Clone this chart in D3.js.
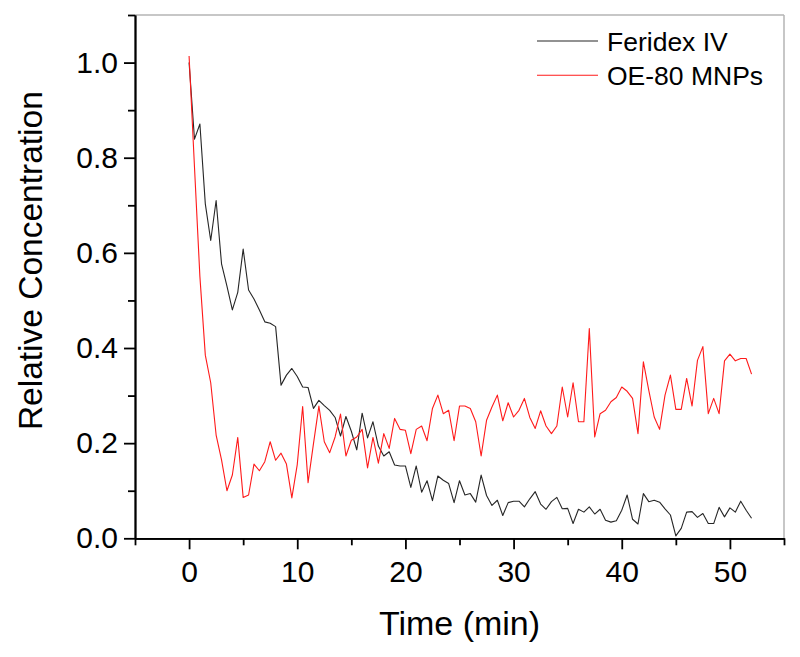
<!DOCTYPE html>
<html>
<head>
<meta charset="utf-8">
<script src="https://cdn.jsdelivr.net/npm/d3@7"></script>
<style>
  body { margin: 0; background: #fff; }
  svg text { font-family: "Liberation Sans", Arial, sans-serif; fill: #000; }
</style>
</head>
<body>
<div class="chart"></div>
<script>
// sample times (min)
const time = [
  0, 0.5, 1, 1.5, 2, 2.5, 3, 3.5, 4, 4.5, 5, 5.5, 6, 6.5, 7, 7.5, 8, 8.5, 9, 9.5,
  10, 10.5, 11, 11.5, 12, 12.5, 13, 13.5, 14, 14.5, 15, 15.5, 16, 16.5, 17, 17.5, 18, 18.5, 19, 19.5,
  20, 20.5, 21, 21.5, 22, 22.5, 23, 23.5, 24, 24.5, 25, 25.5, 26, 26.5, 27, 27.5, 28, 28.5, 29, 29.5,
  30, 30.5, 31, 31.5, 32, 32.5, 33, 33.5, 34, 34.5, 35, 35.5, 36, 36.5, 37, 37.5, 38, 38.5, 39, 39.5,
  40, 40.5, 41, 41.5, 42, 42.5, 43, 43.5, 44, 44.5, 45, 45.5, 46, 46.5, 47, 47.5, 48, 48.5, 49, 49.5,
  50, 50.5, 51, 51.5, 52
];

const feridex = [
  1.000, 0.839, 0.871, 0.703, 0.626, 0.710, 0.577, 0.530, 0.480, 0.517, 0.608, 0.522, 0.503, 0.480, 0.455, 0.452, 0.445, 0.322, 0.343, 0.357,
  0.340, 0.318, 0.317, 0.273, 0.290, 0.279, 0.269, 0.254, 0.215, 0.256, 0.225, 0.186, 0.263, 0.211, 0.245, 0.194, 0.173, 0.182, 0.154, 0.152,
  0.152, 0.107, 0.152, 0.097, 0.121, 0.079, 0.131, 0.122, 0.115, 0.075, 0.121, 0.091, 0.094, 0.076, 0.133, 0.090, 0.069, 0.080, 0.048, 0.075,
  0.078, 0.078, 0.066, 0.083, 0.098, 0.072, 0.061, 0.077, 0.086, 0.062, 0.063, 0.031, 0.061, 0.055, 0.066, 0.051, 0.061, 0.038, 0.034, 0.037,
  0.059, 0.091, 0.040, 0.030, 0.094, 0.077, 0.080, 0.076, 0.062, 0.049, 0.005, 0.021, 0.055, 0.056, 0.044, 0.052, 0.031, 0.031, 0.065, 0.045,
  0.064, 0.055, 0.078, 0.059, 0.042
];

const oe80 = [
  1.014, 0.780, 0.550, 0.385, 0.327, 0.217, 0.165, 0.100, 0.133, 0.212, 0.086, 0.091, 0.156, 0.142, 0.161, 0.203, 0.164, 0.179, 0.156, 0.085,
  0.155, 0.277, 0.117, 0.199, 0.278, 0.203, 0.180, 0.213, 0.261, 0.173, 0.206, 0.213, 0.229, 0.148, 0.212, 0.158, 0.220, 0.189, 0.252, 0.229,
  0.227, 0.178, 0.229, 0.236, 0.205, 0.273, 0.301, 0.262, 0.269, 0.205, 0.278, 0.278, 0.273, 0.245, 0.173, 0.248, 0.276, 0.301, 0.247, 0.285,
  0.255, 0.269, 0.294, 0.254, 0.231, 0.268, 0.236, 0.220, 0.236, 0.318, 0.255, 0.327, 0.245, 0.245, 0.441, 0.213, 0.262, 0.269, 0.287, 0.296,
  0.318, 0.309, 0.294, 0.220, 0.371, 0.311, 0.255, 0.229, 0.301, 0.343, 0.271, 0.271, 0.336, 0.278, 0.374, 0.403, 0.262, 0.294, 0.262, 0.373,
  0.387, 0.373, 0.378, 0.378, 0.345
];

const seriesNames = ["Feridex IV", "OE-80 MNPs"];
const seriesColors = ["#262626", "#ff1a1a"];
const xMajorTicks = [0, 10, 20, 30, 40, 50];
const xMinorTicks = [-5, 5, 15, 25, 35, 45, 55];
const yMajorTicks = [0, 0.2, 0.4, 0.6, 0.8, 1.0];
const yMinorTicks = [0.1, 0.3, 0.5, 0.7, 0.9, 1.1];

const W = 800, H = 657;
const margin = { top: 15, right: 16, bottom: 118.7, left: 135 };
const width = W - margin.left - margin.right,
      height = H - margin.top - margin.bottom;

const svg = d3.select(".chart")
    .append("svg")
    .attr("width", W)
    .attr("height", H)
    .append("g")
    .attr("transform", "translate(" + margin.left + "," + margin.top + ")");

const scaleX = d3.scaleLinear().domain([-5, 55]).range([0, width]);
const scaleY = d3.scaleLinear().domain([0, 1.1]).range([height, 0]);

// frame (top / right in gray)
svg.append("line")
    .attr("x1", 0).attr("x2", width).attr("y1", 0).attr("y2", 0)
    .attr("stroke", "#b4b4b4").attr("stroke-width", 1.5);
svg.append("line")
    .attr("x1", width).attr("x2", width).attr("y1", 0).attr("y2", height)
    .attr("stroke", "#b4b4b4").attr("stroke-width", 1.5);

// lines
const data = [feridex, oe80];
for (let i = 0; i < data.length; i++) {
    const lineFunc = d3.line()
        .x((d, j) => scaleX(time[j]))
        .y((d) => scaleY(d));
    svg.append("path")
        .attr("d", lineFunc(data[i]))
        .attr("fill", "none")
        .attr("stroke", seriesColors[i])
        .attr("stroke-width", 1.1)
        .attr("stroke-linejoin", "round");
}

const styleAxis = (g) => {
    g.selectAll("path").attr("stroke", "#000").attr("stroke-width", 1.8);
    g.selectAll("line").attr("stroke", "#000").attr("stroke-width", 1.8);
    g.selectAll("text").attr("font-size", 30).attr("font-family", "Liberation Sans, Arial, sans-serif");
};

// X-Axis
svg.append("g")
    .attr("transform", "translate(0," + height + ")")
    .call(d3.axisBottom(scaleX).tickValues(xMinorTicks).tickSize(7).tickSizeOuter(0).tickFormat(""))
    .call(styleAxis);

svg.append("g")
    .attr("transform", "translate(0," + height + ")")
    .call(d3.axisBottom(scaleX).tickValues(xMajorTicks).tickSize(11).tickSizeOuter(0).tickPadding(11).tickFormat(d3.format("d")))
    .call(styleAxis);

// Y-Axis
svg.append("g")
    .call(d3.axisLeft(scaleY).tickValues(yMinorTicks).tickSize(7).tickSizeOuter(0).tickFormat(""))
    .call(styleAxis);

svg.append("g")
    .call(d3.axisLeft(scaleY).tickValues(yMajorTicks).tickSize(11).tickSizeOuter(0).tickPadding(6).tickFormat(d3.format(".1f")))
    .call(styleAxis);

// Axis titles
svg.append("text")
    .attr("x", width / 2)
    .attr("y", height + 97)
    .attr("text-anchor", "middle")
    .attr("font-size", 34)
    .text("Time (min)");

svg.append("text")
    .attr("transform", "translate(" + (-93) + "," + (height / 2 - 16) + ") rotate(-90)")
    .attr("text-anchor", "middle")
    .attr("font-size", 33.5)
    .text("Relative Concentration");

// Legend
const legend = svg.append("g").attr("transform", "translate(" + (537 - margin.left) + "," + (41 - margin.top) + ")");
seriesNames.forEach((name, i) => {
    legend.append("line")
        .attr("x1", 0).attr("x2", 61)
        .attr("y1", i * 34.3).attr("y2", i * 34.3)
        .attr("stroke", seriesColors[i])
        .attr("stroke-width", 1.1);
    legend.append("text")
        .attr("x", 70)
        .attr("y", i * 34.3 + 9.7)
        .attr("font-size", 26.5)
        .text(name);
});
</script>
</body>
</html>
